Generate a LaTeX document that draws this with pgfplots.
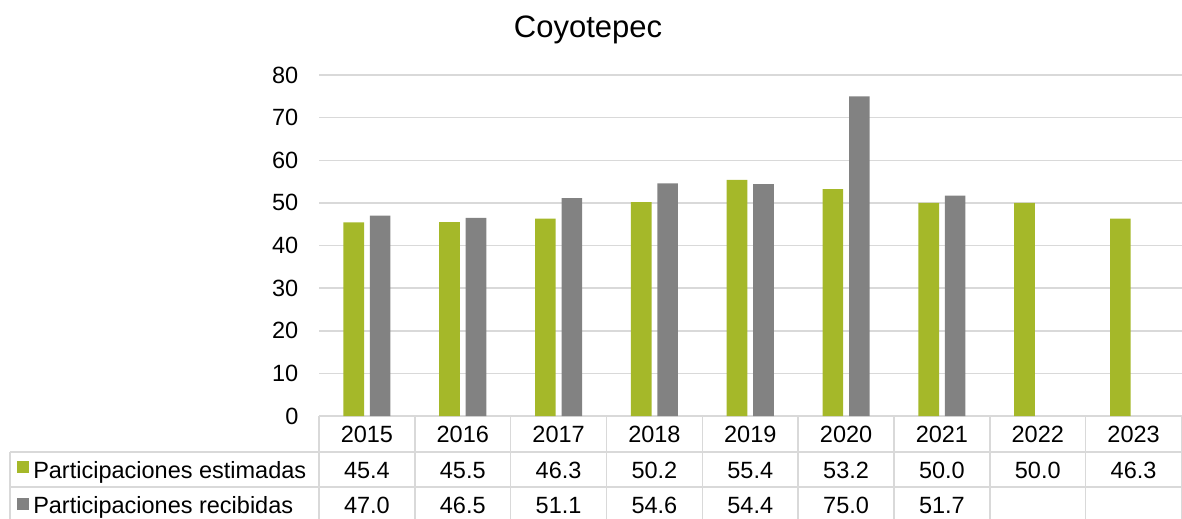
\documentclass[border=0pt]{standalone}
\usepackage{pgfplots}
\pgfplotsset{compat=1.18}
\usepackage{fontspec}
\setmainfont{Liberation Sans}
\definecolor{cgreen}{RGB}{165,184,41}
\definecolor{cgray}{RGB}{130,130,130}
\definecolor{cgrid}{RGB}{217,217,217}
\newcommand{\tfont}{\fontsize{23.5}{23.5}\selectfont}
\begin{document}
\begin{tikzpicture}
\begin{axis}[
  scale only axis, width=862.5pt, height=341pt,
  xmin=-0.5, xmax=8.5, ymin=0, ymax=80,
  ytick={0,10,...,80}, xtick=\empty,
  ymajorgrids, grid style={cgrid, line width=1.5pt},
  axis line style={draw=none},
  major tick length=0pt,
  yticklabel style={font=\tfont, anchor=east, inner sep=0pt, xshift=-20.5pt},
  /pgf/number format/assume math mode=true,
  clip=false, ybar, bar width=0.215,
]
\addplot[fill=cgreen, draw=none, bar shift=-0.138] coordinates {
  (0,45.4) (1,45.5) (2,46.3) (3,50.2) (4,55.4) (5,53.2) (6,50.0) (7,50.0) (8,46.3)};
\addplot[fill=cgray, draw=none, bar shift=0.138] coordinates {
  (0,47.0) (1,46.5) (2,51.1) (3,54.6) (4,54.4) (5,75.0) (6,51.7)};

% title
\node[anchor=base, font=\fontsize{31}{31}\selectfont, inner sep=0pt] at (axis cs:2.307,88.9) {Coyotepec};

% table grid
\draw[cgrid, line width=1.5pt]
  (axis cs:-0.5,0) -- (axis cs:-0.5,-26)
  (axis cs:0.5,0) -- (axis cs:0.5,-26)
  (axis cs:1.5,0) -- (axis cs:1.5,-26)
  (axis cs:2.5,0) -- (axis cs:2.5,-26)
  (axis cs:3.5,0) -- (axis cs:3.5,-26)
  (axis cs:4.5,0) -- (axis cs:4.5,-26)
  (axis cs:5.5,0) -- (axis cs:5.5,-26)
  (axis cs:6.5,0) -- (axis cs:6.5,-26)
  (axis cs:7.5,0) -- (axis cs:7.5,-26)
  (axis cs:8.5,0) -- (axis cs:8.5,-26)
  (axis cs:-3.724,-8.45) -- (axis cs:-3.724,-26)
  (axis cs:-3.724,-8.45) -- (axis cs:8.5,-8.45)
  (axis cs:-3.724,-16.66) -- (axis cs:8.5,-16.66);

% legend keys
\fill[cgreen] (axis cs:-3.648,-10.56) rectangle (axis cs:-3.526,-13.37);
\fill[cgray] (axis cs:-3.648,-19.24) rectangle (axis cs:-3.526,-22.05);
\node[anchor=base west, font=\tfont, inner sep=0pt] at (axis cs:-3.484,-14.55) {Participaciones estimadas};
\node[anchor=base west, font=\tfont, inner sep=0pt] at (axis cs:-3.484,-22.76) {Participaciones recibidas};

% header years
\node[anchor=base, font=\tfont, inner sep=0pt] at (axis cs:0,-6.19) {2015};
\node[anchor=base, font=\tfont, inner sep=0pt] at (axis cs:1,-6.19) {2016};
\node[anchor=base, font=\tfont, inner sep=0pt] at (axis cs:2,-6.19) {2017};
\node[anchor=base, font=\tfont, inner sep=0pt] at (axis cs:3,-6.19) {2018};
\node[anchor=base, font=\tfont, inner sep=0pt] at (axis cs:4,-6.19) {2019};
\node[anchor=base, font=\tfont, inner sep=0pt] at (axis cs:5,-6.19) {2020};
\node[anchor=base, font=\tfont, inner sep=0pt] at (axis cs:6,-6.19) {2021};
\node[anchor=base, font=\tfont, inner sep=0pt] at (axis cs:7,-6.19) {2022};
\node[anchor=base, font=\tfont, inner sep=0pt] at (axis cs:8,-6.19) {2023};

% row 1 values
\node[anchor=base, font=\tfont, inner sep=0pt] at (axis cs:0,-14.55) {45.4};
\node[anchor=base, font=\tfont, inner sep=0pt] at (axis cs:1,-14.55) {45.5};
\node[anchor=base, font=\tfont, inner sep=0pt] at (axis cs:2,-14.55) {46.3};
\node[anchor=base, font=\tfont, inner sep=0pt] at (axis cs:3,-14.55) {50.2};
\node[anchor=base, font=\tfont, inner sep=0pt] at (axis cs:4,-14.55) {55.4};
\node[anchor=base, font=\tfont, inner sep=0pt] at (axis cs:5,-14.55) {53.2};
\node[anchor=base, font=\tfont, inner sep=0pt] at (axis cs:6,-14.55) {50.0};
\node[anchor=base, font=\tfont, inner sep=0pt] at (axis cs:7,-14.55) {50.0};
\node[anchor=base, font=\tfont, inner sep=0pt] at (axis cs:8,-14.55) {46.3};

% row 2 values
\node[anchor=base, font=\tfont, inner sep=0pt] at (axis cs:0,-22.76) {47.0};
\node[anchor=base, font=\tfont, inner sep=0pt] at (axis cs:1,-22.76) {46.5};
\node[anchor=base, font=\tfont, inner sep=0pt] at (axis cs:2,-22.76) {51.1};
\node[anchor=base, font=\tfont, inner sep=0pt] at (axis cs:3,-22.76) {54.6};
\node[anchor=base, font=\tfont, inner sep=0pt] at (axis cs:4,-22.76) {54.4};
\node[anchor=base, font=\tfont, inner sep=0pt] at (axis cs:5,-22.76) {75.0};
\node[anchor=base, font=\tfont, inner sep=0pt] at (axis cs:6,-22.76) {51.7};

\coordinate (bbsw) at (axis cs:-3.829,-23.93);
\coordinate (bbne) at (axis cs:8.505,97.6);
\end{axis}
\pgfresetboundingbox
\useasboundingbox (bbsw) rectangle (bbne);
\end{tikzpicture}
\end{document}
